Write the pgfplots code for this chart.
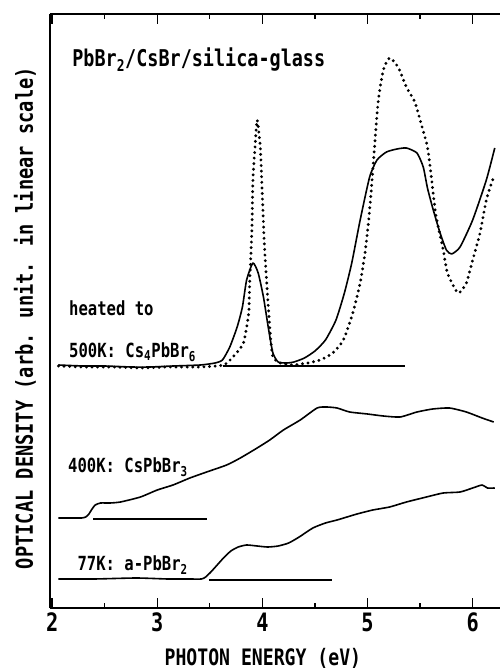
\documentclass[border=0pt]{standalone}
\usepackage{fontspec}
\setmainfont{DejaVu Sans Mono}[FakeStretch=0.8]
\usepackage{pgfplots}
\pgfplotsset{compat=1.18}
\newcommand{\fs}[1]{\fontsize{#1}{#1}\selectfont\bfseries}

% spectra, y in arbitrary units (offset per temperature)
\pgfplotstableread{
x y
2.06 243
2.30 242
2.50 242
2.75 241
2.93 241
3.15 242
3.41 243
3.55 245
3.62 248
3.69 261
3.76 281
3.81 301
3.85 328
3.91 345
3.96 335
4.01 311
4.06 278
4.10 255
4.15 246
4.23 245
4.30 246
4.40 250
4.50 257
4.60 268
4.70 288
4.78 315
4.85 345
4.93 388
5.02 431
5.09 448
5.18 456
5.28 459
5.37 460
5.47 455
5.53 441
5.57 420
5.62 400
5.69 375
5.75 358
5.80 354
5.88 361
6.00 388
6.13 428
6.21 460
}\solidfive

\pgfplotstableread{
x y
2.06 242
2.30 241
2.58 241
2.85 240
3.10 241
3.41 241
3.63 243
3.72 251
3.82 265
3.87 295
3.88 328
3.90 378
3.91 428
3.93 461
3.95 488
3.98 461
4.00 411
4.02 361
4.05 311
4.08 268
4.10 251
4.17 245
4.29 243
4.43 245
4.55 248
4.67 255
4.77 268
4.86 295
4.93 325
4.98 358
5.02 398
5.05 438
5.10 505
5.15 538
5.21 550
5.29 541
5.37 521
5.45 506
5.50 488
5.57 461
5.61 428
5.65 393
5.72 358
5.76 335
5.86 315
5.94 325
6.00 348
6.07 375
6.13 408
6.19 428
6.22 432
}\dotfive

\pgfplotstableread{
x y
2.06 90
2.18 90
2.28 90
2.32 91
2.35 94
2.38 99
2.41 103
2.46 105
2.55 105
2.65 106
2.84 111
3.00 118
3.15 123
3.31 130
3.47 136
3.66 143
3.79 150
3.95 160
4.07 168
4.20 178
4.36 188
4.52 200
4.61 201
4.71 200
4.83 196
5.00 194
5.15 192
5.31 191
5.47 196
5.62 199
5.78 200
5.94 196
6.09 190
6.20 186
}\fourhundred

\pgfplotstableread{
x y
2.06 29
2.40 29
2.80 30
3.10 29
3.30 29
3.42 29
3.46 31
3.51 36
3.57 43
3.63 50
3.70 57
3.77 61
3.85 63
3.95 62
4.05 61
4.15 62
4.25 65
4.35 71
4.48 80
4.60 85
4.71 88
4.90 94
5.05 98
5.21 101
5.37 106
5.56 111
5.72 115
5.88 116
6.00 120
6.09 123
6.14 120
6.21 120
}\seventyseven

\begin{document}
\begin{tikzpicture}
\useasboundingbox (-37.5pt,-48pt) rectangle (337.5pt,456pt);
\begin{axis}[
    scale only axis,
    width=337.5pt, height=445.5pt,
    xmin=1.98, xmax=6.26, ymin=0, ymax=594,
    axis x line*=box, axis y line*=left,
    axis line style={line width=1.1pt},
    xtick={2,3,4,5,6}, minor x tick num=1,
    xtick pos=both, xticklabel pos=lower,
    ytick=\empty,
    major tick length=7.5pt, minor tick length=3.75pt,
    tick style={line width=1pt, black},
    /pgf/number format/assume math mode=true,
    xticklabel style={font=\fs{19}},
    every axis x label/.style={at={(axis description cs:0.473,-0.084)}, anchor=center, font=\fs{17}},
    every axis y label/.style={at={(axis description cs:-0.0556,0.488)}, rotate=90, anchor=center, font=\fs{17.5}},
    xlabel={PHOTON ENERGY (eV)},
    ylabel={OPTICAL DENSITY (arb. unit. in linear scale)},
]
\addplot[black, line width=1.2pt, line join=round, smooth, tension=0.35] table {\solidfive};
\addplot[black, line width=2.4pt, line cap=round, dash pattern=on 0pt off 4.2pt, smooth, tension=0.35] table {\dotfive};
\addplot[black, line width=1.2pt, line join=round, smooth, tension=0.35] table {\fourhundred};
\addplot[black, line width=1.2pt, line join=round, smooth, tension=0.35] table {\seventyseven};
% baselines
\addplot[black, line width=1pt] coordinates {(3.63,242) (5.36,242)};
\addplot[black, line width=1pt] coordinates {(2.39,89) (3.47,89)};
\addplot[black, line width=1pt] coordinates {(3.49,28) (4.66,28)};

\node[anchor=west, inner sep=0, font=\fs{17.3}] at (axis cs:2.19,548) {PbBr\textsubscript{2}/CsBr/silica-glass};
\node[anchor=west, inner sep=0, font=\fs{14.6}] at (axis cs:2.16,300) {heated to};
\node[anchor=west, inner sep=0, font=\fs{14.6}] at (axis cs:2.16,256) {500K: Cs\textsubscript{4}PbBr\textsubscript{6}};
\node[anchor=west, inner sep=0, font=\fs{14.6}] at (axis cs:2.15,141) {400K: CsPbBr\textsubscript{3}};
\node[anchor=west, inner sep=0, font=\fs{14.6}] at (axis cs:2.24,43) {77K: a-PbBr\textsubscript{2}};
\end{axis}
\end{tikzpicture}
\end{document}
